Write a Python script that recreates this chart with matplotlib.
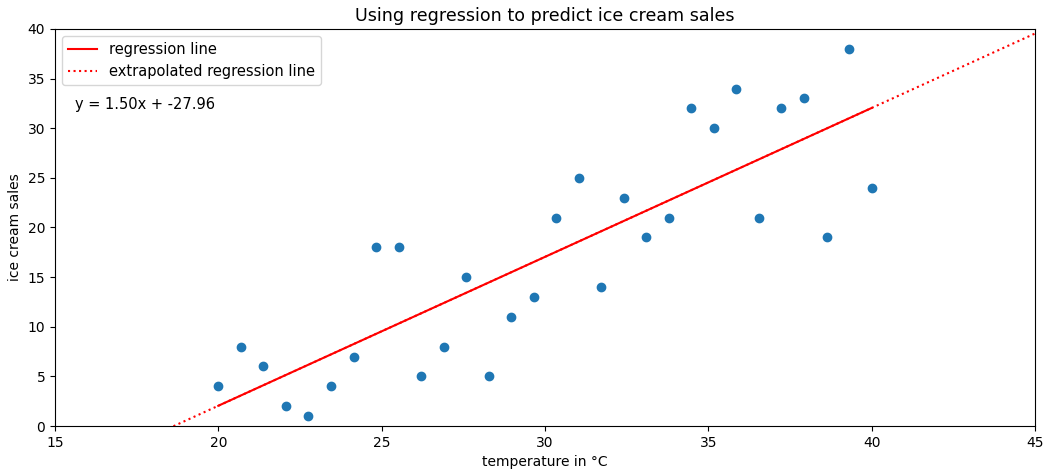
import numpy as np
import matplotlib
matplotlib.use('Agg')
import matplotlib.pyplot as plt

# temperature readings (°C) and ice cream sales
temperature = [20.0, 20.69, 21.38, 22.07, 22.76, 23.45, 24.14, 24.83, 25.52, 26.21,
               26.9, 27.59, 28.28, 28.97, 29.66, 30.34, 31.03, 31.72, 32.41, 33.1,
               33.79, 34.48, 35.17, 35.86, 36.55, 37.24, 37.93, 38.62, 39.31, 40.0]
sales = [4, 8, 6, 2, 1, 4, 7, 18, 18, 5,
         8, 15, 5, 11, 13, 21, 25, 14, 23, 19,
         21, 32, 30, 34, 21, 32, 33, 19, 38, 24]

slope = 1.50
intercept = -27.96

fig = plt.figure(figsize=(10.45, 4.71), dpi=100)
ax = fig.add_axes([0.0526, 0.0955, 0.9378, 0.843])

ax.scatter(temperature, sales)

x_fit = np.array([20, 40])
x_ext = np.array([15, 45])
ax.plot(x_fit, slope * x_fit + intercept, color='red', label='regression line')
ax.plot(x_ext, slope * x_ext + intercept, color='red', linestyle=':', label='extrapolated regression line')

ax.text(0.02, 0.81, f'y = {slope:.2f}x + {intercept:.2f}', transform=ax.transAxes,
        fontsize=10.5, va='center')

ax.set_xlim(15, 45)
ax.set_ylim(0, 40)
ax.set_title('Using regression to predict ice cream sales', fontsize=12.6)
ax.set_xlabel('temperature in °C')
ax.set_ylabel('ice cream sales')
ax.legend(loc='upper left', fontsize=10.5)

fig.savefig('out.png', dpi=100)
